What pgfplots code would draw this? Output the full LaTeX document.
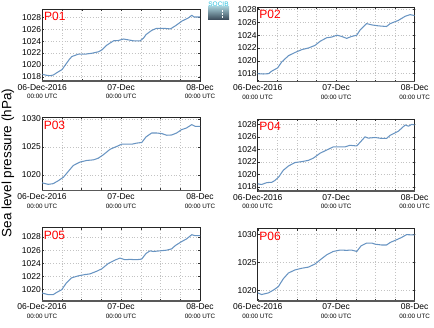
\documentclass[border=0pt]{standalone}
\usepackage{fontspec}
\setmainfont{Liberation Sans}
\usepackage{pgfplots}
\pgfplotsset{compat=1.18}
\definecolor{lineblue}{RGB}{104,148,194}
\definecolor{gridgray}{RGB}{195,195,195}
\definecolor{logotop}{RGB}{160,200,210}
\definecolor{logobot}{RGB}{55,70,85}
\definecolor{logotext}{RGB}{40,190,220}
\tikzset{plabel/.style={red, font=\fontsize{12}{12}\selectfont, anchor=north west, inner sep=0pt},
  pline/.style={draw=lineblue, line width=1.05pt, mark=none, line join=round}}
\pgfplotsset{
  panel/.style={
    scale only axis, anchor=north west,
    xmin=0, xmax=48,
    xtick={0,24,48}, minor xtick={6,12,18,30,36,42},
    xticklabels={{06-Dec-2016\\[-1pt]{\fontsize{6.3}{7}\selectfont 00:00 UTC}},
                 {07-Dec\\[-1pt]{\fontsize{6.3}{7}\selectfont 00:00 UTC}},
                 {08-Dec\\[-1pt]{\fontsize{6.3}{7}\selectfont 00:00 UTC}}},
    xticklabel style={align=center, font=\fontsize{8.5}{9.5}\selectfont, inner sep=1pt, yshift=-2pt},
    yticklabel style={font=\fontsize{8.5}{9.5}\selectfont, inner sep=1pt},
    grid=both,
    major grid style={gridgray, dash pattern=on 0.8pt off 2pt, line width=0.5pt},
    minor grid style={gridgray, dash pattern=on 0.8pt off 2pt, line width=0.5pt},
    tick align=inside, major tick length=2pt, minor tick length=2pt,
    tick style={black!80, line width=0.4pt},
    axis line style={black!85, line width=0.6pt},
    /pgf/number format/assume math mode=true,
    /pgf/number format/1000 sep={},
    extra description/.code={\draw[black!65, line width=1.6pt] (0,0) -- (1,0);},
  },
}
\begin{document}
\begin{tikzpicture}[x=1pt,y=1pt]
\path[use as bounding box] (0,0) rectangle (434,327);

% P01
\begin{axis}[panel, at={(42.3pt,318pt)}, width=157.7pt, height=72pt,
  ymin=1017.28, ymax=1029.4, ytick={1018,1020,...,1028}]
\addplot[pline] coordinates {(0,1018.4) (1.2,1018.25) (2.4,1018.17) (3.4,1018.3) (4.5,1018.7) (6.0,1019.2) (7.3,1020.2) (8.2,1020.9) (9.0,1021.4) (11.0,1021.8) (13.1,1021.8) (15.1,1021.95) (17.1,1022.2) (18.1,1022.5) (19.6,1023.3) (21.7,1024.05) (23.2,1024.1) (24.7,1024.35) (26.2,1024.2) (27.7,1024.05) (29.8,1024.05) (30.8,1024.5) (31.6,1025.1) (33.3,1025.8) (34.8,1026.15) (36.9,1026.15) (39.0,1026.05) (40.6,1026.6) (42.6,1027.4) (44.5,1027.9) (45.5,1028.35) (46.2,1028.05) (48,1028.05)};
\node[plabel] at (rel axis cs:0.01,0.955) {P01};
\end{axis}

% P02
\begin{axis}[panel, at={(257.7pt,320pt)}, width=157pt, height=74.7pt,
  ymin=1016.75, ymax=1028.39, ytick={1018,1020,...,1028}]
\addplot[pline] coordinates {(0,1018.0) (1.7,1017.95) (3.3,1018.0) (4.3,1018.4) (6.1,1018.9) (7.3,1019.8) (9.4,1020.8) (11.4,1021.3) (13.5,1021.75) (15.5,1022.0) (17.5,1022.4) (19.1,1023.05) (21.1,1023.6) (22.6,1023.7) (24.2,1024.0) (25.7,1023.8) (27.2,1023.5) (28.7,1023.8) (30.3,1024.0) (31.3,1024.8) (33.3,1025.8) (34.9,1025.6) (36.9,1025.45) (39.4,1025.35) (40.5,1025.8) (43.0,1026.3) (45.1,1026.95) (46.6,1027.2) (48,1027.05)};
\node[plabel] at (rel axis cs:0.01,0.955) {P02};
\end{axis}

% P03
\begin{axis}[panel, at={(42pt,209.5pt)}, width=158pt, height=73pt,
  ymin=1017.23, ymax=1030.27, ytick={1020,1025,1030}]
\addplot[pline] coordinates {(0,1018.6) (1.9,1018.33) (3.4,1018.45) (5.0,1019.0) (6.5,1019.6) (8.0,1020.65) (9.5,1021.7) (11.5,1022.3) (13.6,1022.6) (15.6,1022.7) (17.1,1023.0) (18.6,1023.6) (20.7,1024.6) (22.7,1025.1) (24.2,1025.5) (25.7,1025.5) (27.3,1025.5) (28.8,1025.7) (30.3,1025.8) (31.6,1026.8) (33.3,1027.5) (34.8,1027.5) (36.4,1027.4) (37.9,1027.1) (39.4,1027.15) (40.9,1027.5) (42.4,1028.1) (43.9,1028.4) (45.5,1029.0) (46.5,1028.7) (48,1028.7)};
\node[plabel] at (rel axis cs:0.01,0.955) {P03};
\end{axis}

% P04
\begin{axis}[panel, at={(257.7pt,208pt)}, width=157pt, height=72pt,
  ymin=1017.36, ymax=1028.85, ytick={1018,1020,...,1028}]
\addplot[pline] coordinates {(0,1018.5) (1.2,1018.4) (2.8,1018.7) (4.3,1018.75) (5.3,1019.05) (6.5,1019.65) (7.8,1020.65) (9.4,1021.35) (11.4,1021.9) (13.5,1022.05) (15.5,1022.25) (17.0,1022.6) (19.1,1023.4) (21.1,1023.9) (23.1,1024.4) (24.7,1024.4) (26.7,1024.4) (28.2,1024.65) (30.3,1024.55) (31.6,1025.3) (32.8,1026.0) (33.8,1025.8) (35.9,1025.9) (37.9,1025.75) (39.4,1025.75) (40.5,1026.25) (43.0,1026.9) (45.1,1027.9) (46.1,1027.7) (47.1,1028.0) (48,1027.9)};
\node[plabel] at (rel axis cs:0.01,0.955) {P04};
\end{axis}

% P05
\begin{axis}[panel, at={(42pt,99.3pt)}, width=158pt, height=73pt,
  ymin=1018.33, ymax=1029.41, ytick={1020,1022,...,1028}]
\addplot[pline] coordinates {(0,1019.5) (1.9,1019.25) (3.4,1019.25) (4.5,1019.6) (6.0,1020.0) (7.3,1020.95) (9.0,1021.8) (11.0,1022.1) (13.1,1022.3) (14.6,1022.4) (16.6,1022.8) (18.1,1023.15) (20.2,1024.0) (22.2,1024.5) (23.7,1024.8) (25.2,1024.55) (26.7,1024.6) (28.8,1024.55) (30.3,1024.65) (31.6,1025.5) (32.8,1025.9) (33.8,1025.8) (35.9,1025.9) (37.9,1026.0) (39.4,1026.2) (40.5,1026.7) (42.4,1027.3) (43.9,1027.7) (45.5,1028.35) (46.5,1028.2) (48,1028.2)};
\node[plabel] at (rel axis cs:0.01,0.955) {P05};
\end{axis}

% P06
\begin{axis}[panel, at={(257.7pt,98.5pt)}, width=157pt, height=72.2pt,
  ymin=1018.2, ymax=1031.1, ytick={1020,1025,1030}]
\addplot[pline] coordinates {(0,1019.6) (1.2,1019.3) (3.3,1019.6) (4.8,1020.1) (6.3,1020.7) (7.8,1022.1) (9.4,1023.15) (11.4,1023.7) (13.5,1024.0) (15.5,1024.2) (17.5,1024.75) (19.1,1025.5) (21.1,1026.4) (23.1,1027.0) (25.2,1027.25) (27.2,1027.2) (28.7,1027.25) (30.3,1027.0) (31.6,1028.0) (33.3,1028.5) (34.9,1028.5) (35.9,1028.3) (37.9,1028.15) (39.4,1028.15) (40.5,1028.6) (42.5,1029.1) (44.0,1029.5) (45.5,1030.0) (48,1029.95)};
\node[plabel] at (rel axis cs:0.01,0.955) {P06};
\end{axis}

% y label
\node[rotate=90, font=\fontsize{13.5}{15}\selectfont] at (8,164) {Sea level pressure (hPa)};

% logo
\shade[top color=logotop, bottom color=logobot] (208,307) rectangle (229,320);
\draw[white, densely dotted, line width=0.5pt] (222,309) -- (222,318);
\node[logotext, font=\fontsize{6.5}{6.5}\selectfont, inner sep=0pt] at (218.5,322.5) {SOCIB};
\end{tikzpicture}
\end{document}
